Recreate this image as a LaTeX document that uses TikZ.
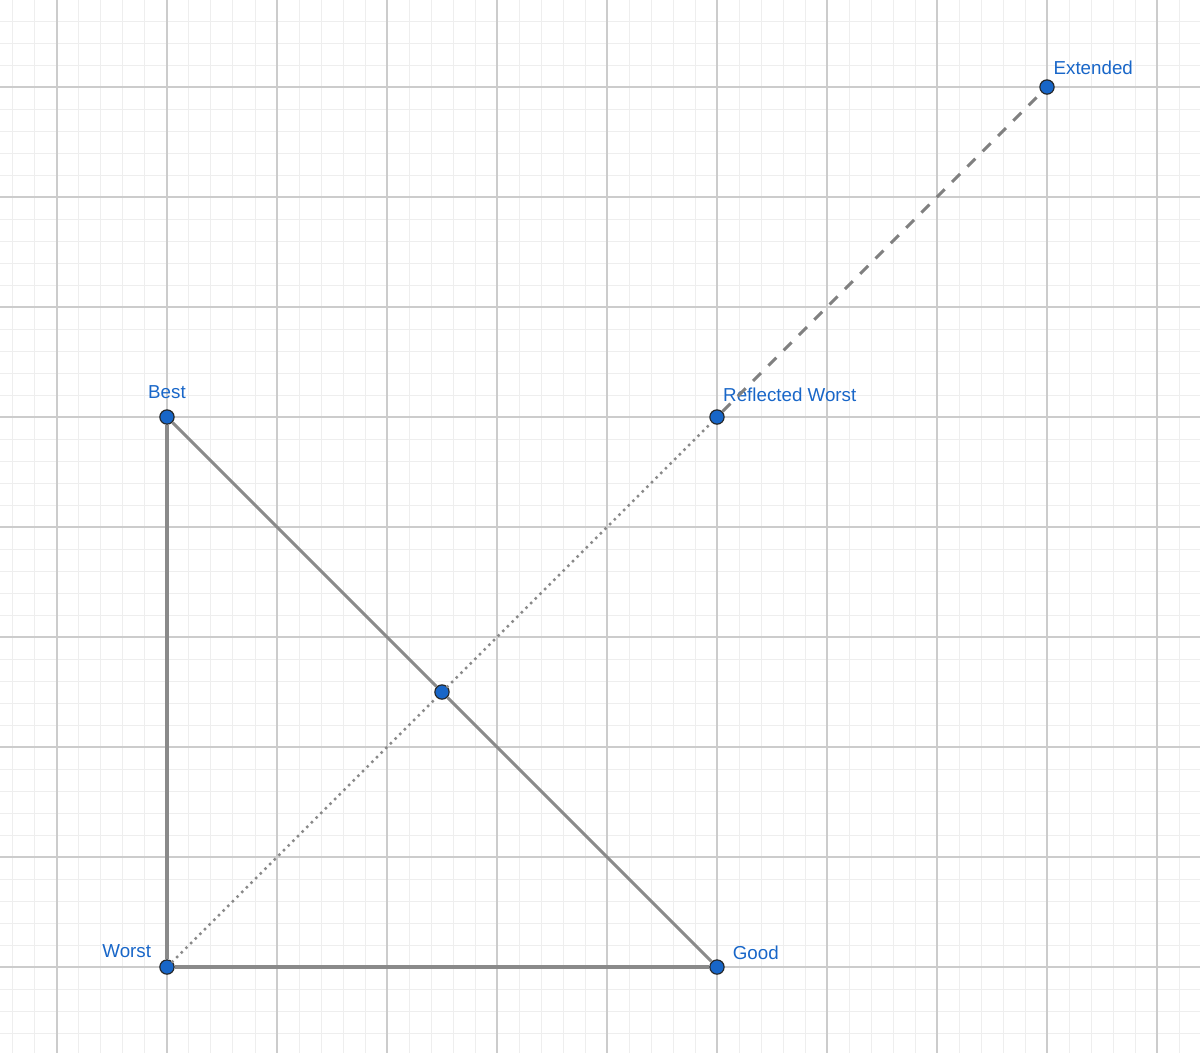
\documentclass[tikz,border=0pt]{standalone}
\usepackage{fontspec}
\setmainfont{Liberation Sans}
\usetikzlibrary{positioning}
\definecolor{ptblue}{RGB}{24,102,200}
\definecolor{sidegray}{RGB}{138,138,138}
\definecolor{minorgray}{RGB}{238,238,238}
\definecolor{majorgray}{RGB}{204,204,204}

\begin{document}
\begin{tikzpicture}
      \tikzstyle{vertex} = [draw=black!85, fill=ptblue, circle, minimum size=3.7pt, inner sep=0pt, line width=0.3pt]
      \tikzstyle{lbl} = [text=ptblue, inner sep=0pt, font=\fontsize{4.85}{6}\selectfont]
      \tikzstyle{side} = [draw=sidegray, line width=0.8pt]
      \tikzstyle{dots} = [draw=sidegray, line width=0.9pt, line cap=round, dash pattern=on 0pt off 1.7pt]
      \tikzstyle{dashes} = [draw=black!50, line width=0.8pt, dash pattern=on 2.9pt off 2.7pt]
      \useasboundingbox (-1.518,-0.773) rectangle (9.391,8.791);
      \clip (-1.518,-0.773) rectangle (9.391,8.791);
      % grid
      \draw[minorgray, line width=0.25pt] (-1.6,-0.8) grid[step=0.2] (9.4,8.8);
      \draw[majorgray, line width=0.3pt] (-1.6,-0.8) grid[step=1] (9.4,8.8);
      \begin{scope}
	\path
	node[vertex] (worst) at (0,0) {}
	node[vertex] (good) at (5,0) {}
	node[vertex] (best) at (0,5) {}
	node[vertex] (mid) at (2.5,2.5) {}
	node[vertex] (refl) at (5,5) {}
	node[vertex] (ext) at (8,8) {}
	node[lbl, above left=0.9pt and 2.5pt of worst] (worstlbl) {Worst}
	node[lbl, above right=0.3pt and 2.5pt of good] (goodlbl) {Good}
	node[lbl, above=2.5pt of best] (bestlbl) {Best}
	node[lbl, above right=2.3pt and 0pt of refl] (refllbl) {Reflected Worst}
	node[lbl, above right=1.5pt and 0.1pt of ext] (extlbl) {Extended}
	(worst) edge[side] (good)
	(worst) edge[side] (best)
	(best) edge[side] (mid)
	(mid) edge[side] (good)
	(worst) edge[dots] (mid)
	(mid) edge[dots] (refl)
	(refl) edge[dashes] (ext)
	;
      \end{scope}
\end{tikzpicture}
\end{document}
